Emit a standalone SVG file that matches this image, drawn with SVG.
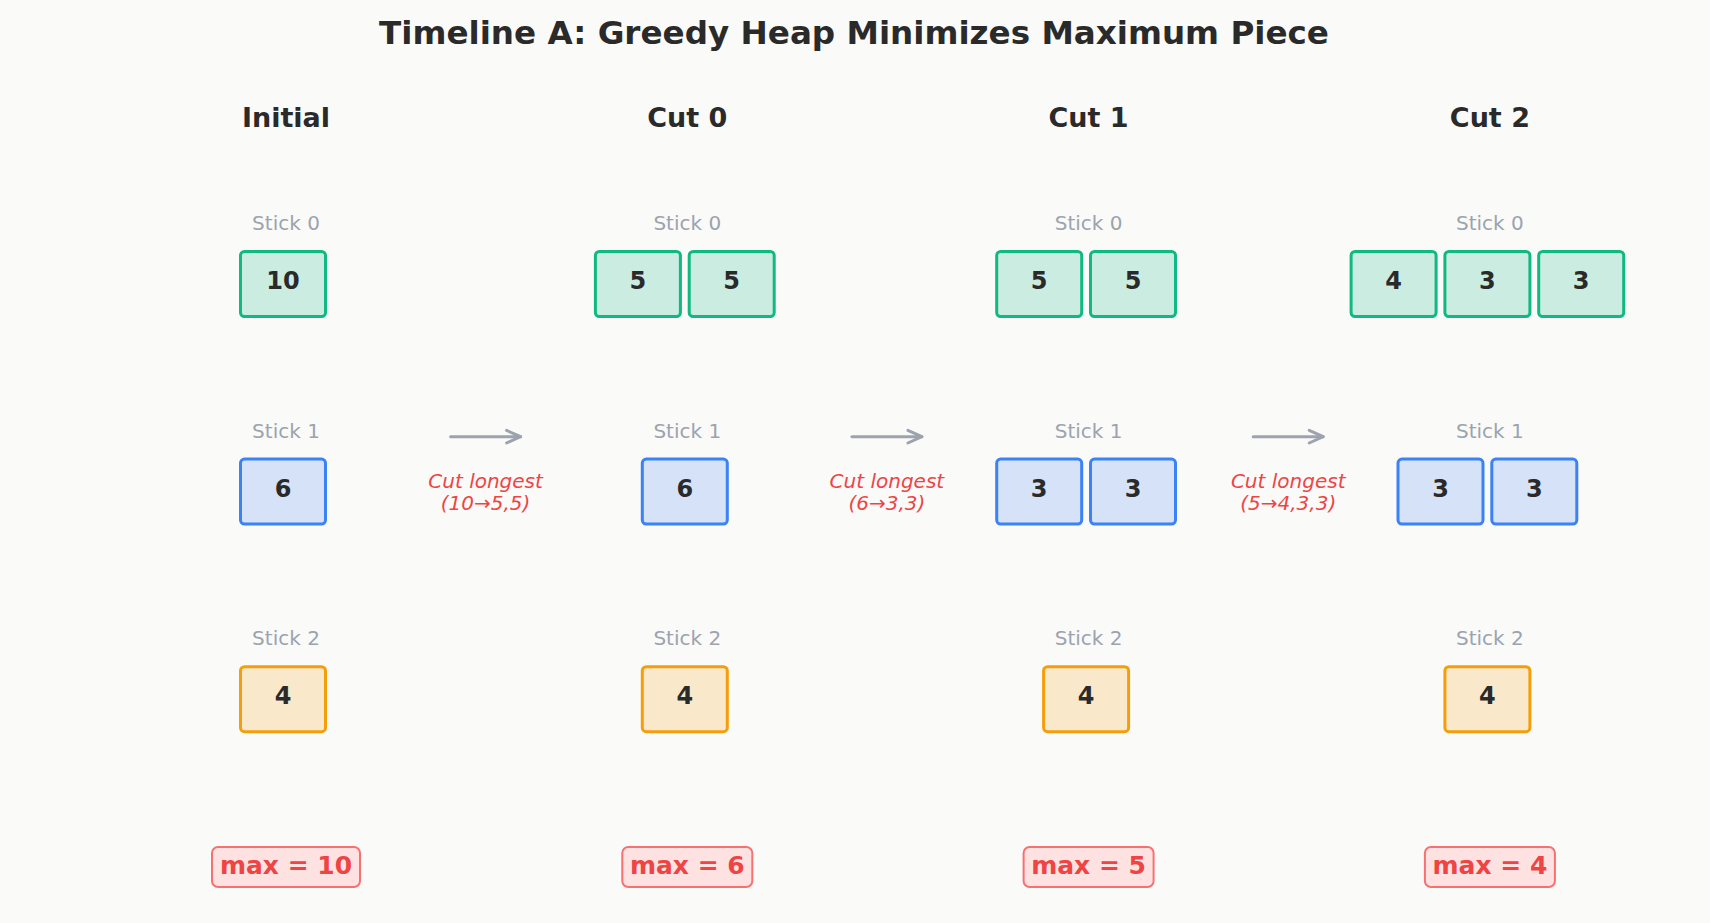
<svg xmlns="http://www.w3.org/2000/svg" width="1710" height="923" viewBox="0 0 1710 923">
<defs>
<style>
text{font-family:"DejaVu Sans","Liberation Sans",sans-serif;}
.title{font-size:32.6px;font-weight:bold;fill:#2a2a2a;text-anchor:middle;}
.hdr{font-size:27px;font-weight:bold;fill:#2a2a2a;text-anchor:middle;}
.lbl{font-size:20px;fill:#9ca3af;text-anchor:middle;}
.num{font-size:24px;font-weight:bold;fill:#2a2a2a;text-anchor:middle;}
.g{fill:#cbede1;stroke:#10b981;stroke-width:3;}
.b{fill:#d5e2f8;stroke:#3b82f6;stroke-width:3;}
.o{fill:#f9e8ca;stroke:#f59e0b;stroke-width:3;}
.mx{fill:#fee2e2;stroke:#f87171;stroke-width:2;}
.mxt{font-size:25px;font-weight:bold;fill:#ef4444;text-anchor:middle;}
.cut{font-size:20px;font-style:italic;fill:#ef4444;text-anchor:middle;}
.arr{stroke:#9ca3af;stroke-width:3;fill:none;stroke-linecap:round;}
</style>
<marker id="head" markerUnits="userSpaceOnUse" markerWidth="24" markerHeight="24" refX="18" refY="12" orient="auto" overflow="visible">
<path d="M4,5.7 L18,12 L4,18.3" fill="none" stroke="#9ca3af" stroke-width="3" stroke-linecap="round" stroke-linejoin="round"/>
</marker>
</defs>
<rect width="1710" height="923" fill="#fafaf9"/>
<text class="title" x="854" y="44">Timeline A: Greedy Heap Minimizes Maximum Piece</text>

<g id="col-initial">
<text class="hdr" x="286" y="126.7">Initial</text>
<text class="lbl" x="286" y="230">Stick 0</text>
<rect class="g" x="240.5" y="251.5" width="85" height="65" rx="4"/><text class="num" x="283" y="289">10</text>
<text class="lbl" x="286" y="437.6">Stick 1</text>
<rect class="b" x="240.5" y="459.1" width="85" height="65" rx="4"/><text class="num" x="283" y="496.6">6</text>
<text class="lbl" x="286" y="645.2">Stick 2</text>
<rect class="o" x="240.5" y="666.7" width="85" height="65" rx="4"/><text class="num" x="283" y="704.2">4</text>
<rect class="mx" x="212" y="847" width="148" height="40" rx="6"/><text class="mxt" x="286" y="874.3">max = 10</text>
</g>

<g id="col-cut0">
<text class="hdr" x="687.3" y="126.7">Cut 0</text>
<text class="lbl" x="687.3" y="230">Stick 0</text>
<rect class="g" x="595.4" y="251.5" width="85" height="65" rx="4"/><text class="num" x="637.9" y="289">5</text>
<rect class="g" x="689.2" y="251.5" width="85" height="65" rx="4"/><text class="num" x="731.7" y="289">5</text>
<text class="lbl" x="687.3" y="437.6">Stick 1</text>
<rect class="b" x="642.3" y="459.1" width="85" height="65" rx="4"/><text class="num" x="684.8" y="496.6">6</text>
<text class="lbl" x="687.3" y="645.2">Stick 2</text>
<rect class="o" x="642.3" y="666.7" width="85" height="65" rx="4"/><text class="num" x="684.8" y="704.2">4</text>
<rect class="mx" x="622.3" y="847" width="130" height="40" rx="6"/><text class="mxt" x="687.3" y="874.3">max = 6</text>
</g>

<g id="col-cut1">
<text class="hdr" x="1088.6" y="126.7">Cut 1</text>
<text class="lbl" x="1088.6" y="230">Stick 0</text>
<rect class="g" x="996.7" y="251.5" width="85" height="65" rx="4"/><text class="num" x="1039.2" y="289">5</text>
<rect class="g" x="1090.5" y="251.5" width="85" height="65" rx="4"/><text class="num" x="1133" y="289">5</text>
<text class="lbl" x="1088.6" y="437.6">Stick 1</text>
<rect class="b" x="996.7" y="459.1" width="85" height="65" rx="4"/><text class="num" x="1039.2" y="496.6">3</text>
<rect class="b" x="1090.5" y="459.1" width="85" height="65" rx="4"/><text class="num" x="1133" y="496.6">3</text>
<text class="lbl" x="1088.6" y="645.2">Stick 2</text>
<rect class="o" x="1043.6" y="666.7" width="85" height="65" rx="4"/><text class="num" x="1086.1" y="704.2">4</text>
<rect class="mx" x="1023.6" y="847" width="130" height="40" rx="6"/><text class="mxt" x="1088.6" y="874.3">max = 5</text>
</g>

<g id="col-cut2">
<text class="hdr" x="1489.9" y="126.7">Cut 2</text>
<text class="lbl" x="1489.9" y="230">Stick 0</text>
<rect class="g" x="1351.1" y="251.5" width="85" height="65" rx="4"/><text class="num" x="1393.6" y="289">4</text>
<rect class="g" x="1444.9" y="251.5" width="85" height="65" rx="4"/><text class="num" x="1487.4" y="289">3</text>
<rect class="g" x="1538.7" y="251.5" width="85" height="65" rx="4"/><text class="num" x="1581.2" y="289">3</text>
<text class="lbl" x="1489.9" y="437.6">Stick 1</text>
<rect class="b" x="1398" y="459.1" width="85" height="65" rx="4"/><text class="num" x="1440.5" y="496.6">3</text>
<rect class="b" x="1491.8" y="459.1" width="85" height="65" rx="4"/><text class="num" x="1534.3" y="496.6">3</text>
<text class="lbl" x="1489.9" y="645.2">Stick 2</text>
<rect class="o" x="1444.9" y="666.7" width="85" height="65" rx="4"/><text class="num" x="1487.4" y="704.2">4</text>
<rect class="mx" x="1424.9" y="847" width="130" height="40" rx="6"/><text class="mxt" x="1489.9" y="874.3">max = 4</text>
</g>

<g id="connectors">
<line class="arr" x1="450.6" y1="436.7" x2="520.6" y2="436.7" marker-end="url(#head)"/>
<text class="cut" x="485.6" y="487.7">Cut longest</text>
<text class="cut" x="485.6" y="510">(10→5,5)</text>
<line class="arr" x1="851.9" y1="436.7" x2="921.9" y2="436.7" marker-end="url(#head)"/>
<text class="cut" x="886.9" y="487.7">Cut longest</text>
<text class="cut" x="886.9" y="510">(6→3,3)</text>
<line class="arr" x1="1253.2" y1="436.7" x2="1323.2" y2="436.7" marker-end="url(#head)"/>
<text class="cut" x="1288.2" y="487.7">Cut longest</text>
<text class="cut" x="1288.2" y="510">(5→4,3,3)</text>
</g>
</svg>
